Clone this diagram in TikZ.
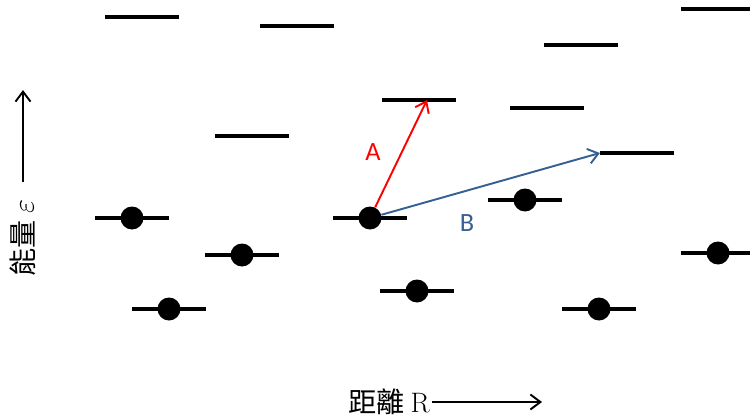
\documentclass[tikz,border=0pt]{standalone}
\usepackage{fontspec}
\usepackage{tikz}
\usetikzlibrary{arrows.meta, positioning}
\usepackage{xcolor}
\newfontfamily\cjkfont{Noto Sans CJK TC}
\newfontfamily\labelfont{Carlito}
\definecolor{trred}{HTML}{FF0000}
\definecolor{trblue}{HTML}{376092}

\begin{document}
\begin{tikzpicture}[
    x=0.02cm, y=-0.02cm,
    level/.style={rectangle, fill=black, inner sep=0pt,
                  minimum width=1.47cm, minimum height=0.07cm},
    electron/.style={circle, fill=black, inner sep=0pt, minimum size=0.46cm},
    trans/.style={-{Straight Barb[length=2mm, width=3mm]}, line width=1.1pt, draw=#1},
    trlabel/.style={font=\labelfont\fontsize{15}{18}\selectfont, text=#1},
    axis/.style={-{Straight Barb[length=2mm, width=3mm]}, line width=1.1pt},
    axlabel/.style={font=\fontsize{16}{19}\selectfont, inner sep=1pt}
  ]
    \useasboundingbox (0,0) rectangle (750,419);

    % unoccupied levels
    \node[level] (u1) at (142,17) {};
    \node[level] (u2) at (297,26) {};
    \node[level] (u3) at (718,9) {};
    \node[level] (u4) at (581,45) {};
    \node[level] (u5) at (419,100) {};
    \node[level] (u6) at (547,108) {};
    \node[level] (u7) at (252,136) {};
    \node[level] (u8) at (637,153) {};

    % occupied levels
    \node[level] (o1) at (132,218) {};
    \node[level] (o2) at (370,218) {};
    \node[level] (o3) at (525,200) {};
    \node[level] (o4) at (242,255) {};
    \node[level] (o5) at (718,253) {};
    \node[level] (o6) at (417,291) {};
    \node[level] (o7) at (169,309) {};
    \node[level] (o8) at (599,309) {};

    \node[electron] (e1) at (o1) {};
    \node[electron] (e2) at (o2) {};
    \node[electron] (e3) at (o3) {};
    \node[electron] (e4) at (o4) {};
    \node[electron] (e5) at (o5) {};
    \node[electron] (e6) at (o6) {};
    \node[electron] (e7) at (o7) {};
    \node[electron] (e8) at (o8) {};

    % transitions
    \draw[trans=trred] (e2) -- ([xshift=0.16cm]u5.center);
    \draw[trans=trblue] (e2) -- (u8.west);
    \node[trlabel=trred] (labA) at (373,152) {A};
    \node[trlabel=trblue] (labB) at (467,223) {B};

    % axes
    \node[axlabel, rotate=90] (ylab) at (23,238) {\cjkfont 能量 $\varepsilon$};
    \coordinate (ytop) at (23,90);
    \draw[axis] ([yshift=0.32cm]ylab.east) -- (ytop);

    \node[axlabel] (xlab) at (389,402) {\cjkfont 距離 \rmfamily R};
    \coordinate (xend) at (542,402);
    \draw[axis] (xlab.east) -- (xend |- xlab.east);
  \end{tikzpicture}
\end{document}
